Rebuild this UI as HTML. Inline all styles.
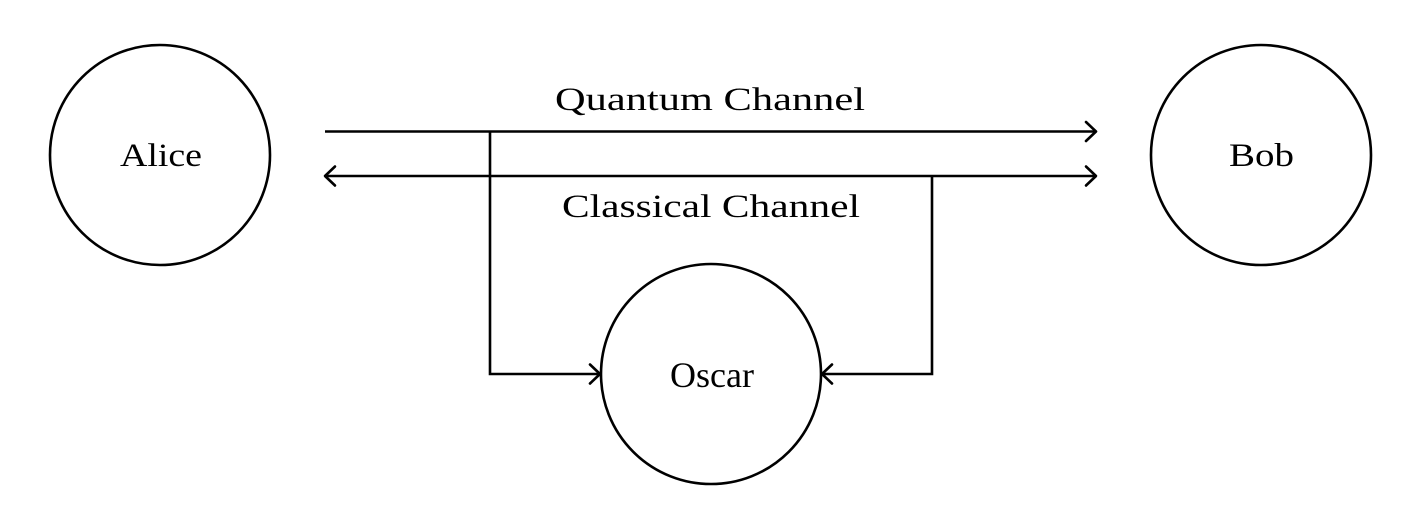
<!DOCTYPE html>
<html><head><meta charset="utf-8"><style>
html,body{margin:0;padding:0;background:#fff;width:1404px;height:517px;overflow:hidden}
text{font-family:"Liberation Serif",serif;font-size:33px;fill:#000}
</style></head><body>
<svg width="1404" height="517" viewBox="0 0 1404 517" xmlns="http://www.w3.org/2000/svg">
<g fill="none" stroke="#000" stroke-width="2.6">
<circle cx="160" cy="155" r="110"/>
<circle cx="1261" cy="155" r="110"/>
<circle cx="711" cy="374" r="110"/>
<line x1="325" y1="131.5" x2="1096" y2="131.5"/>
<line x1="325" y1="176" x2="1096" y2="176"/>
<polyline points="490,131.5 490,374 600,374"/>
<polyline points="932,176 932,374 822,374"/>
<g stroke-linecap="round" stroke-linejoin="round">
<polyline points="1086,122 1096,131.5 1086,141"/>
<polyline points="1086,166.5 1096,176 1086,185.5"/>
<polyline points="335,166.5 325,176 335,185.5"/>
<polyline points="590,364.5 600,374 590,383.5"/>
<polyline points="832,364.5 822,374 832,383.5"/>
</g>
</g>
<text x="120" y="166" textLength="82" lengthAdjust="spacingAndGlyphs">Alice</text>
<text x="1229" y="166" textLength="65" lengthAdjust="spacingAndGlyphs">Bob</text>
<text x="712" y="387" text-anchor="middle" style="font-size:36px">Oscar</text>
<text x="555" y="110" textLength="310" lengthAdjust="spacingAndGlyphs">Quantum Channel</text>
<text x="562" y="217" textLength="298" lengthAdjust="spacingAndGlyphs">Classical Channel</text>
</svg>
</body></html>
